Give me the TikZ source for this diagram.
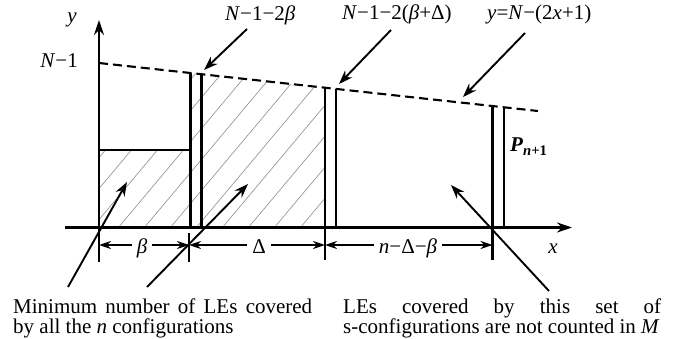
\documentclass[tikz,border=0pt]{standalone}
\usepackage{fontspec}
\setmainfont{Liberation Serif}
\usetikzlibrary{arrows.meta,calc}
\begin{document}
\begin{tikzpicture}[x=1pt,y=-1pt,
  thickline/.style={line width=2.1pt},
  hatchline/.style={line width=0.6pt,black!45},
  lbl/.style={inner sep=0pt,font=\fontsize{21}{21}\selectfont},
  dimlbl/.style={inner ysep=0pt,inner xsep=5pt,font=\fontsize{21}{21}\selectfont},
  annot/.style={line width=1.9pt,-{Stealth[length=14pt,width=10pt]}},
  dimarrow/.style={line width=1.8pt,-{Stealth[length=12pt,width=8pt]}},
  axisarrow/.style={line width=2.1pt,-{Stealth[length=15pt,width=10pt]}},
  ]
\useasboundingbox (0,0) rectangle (676,339);

% hatching
\begin{scope}
  \clip (99,150) rectangle (190.5,228);
  \foreach \k in {-12,...,6} {
    \draw[hatchline] ({248+26*\k},228) -- ++(142.6,-170);
  }
\end{scope}
\begin{scope}
  \clip (190.5,228) -- (325,228) -- (325,87.7) -- (190.5,73) -- cycle;
  \foreach \k in {-12,...,6} {
    \draw[hatchline] ({248+26*\k},228) -- ++(142.6,-170);
  }
\end{scope}

% dashed line y = N-(2x+1)
\coordinate (dl0) at (99,63);
\coordinate (dl1) at (538,111);
\draw[thickline,dash pattern=on 9pt off 5pt] (dl0) -- (dl1);

% vertical bars
\foreach \x in {190.5,201.5,325,336,492.5,504} {
  \draw[thickline] (\x,228) -- (\x,{63+(\x-99)*0.10934});
}
\draw[thickline] (99,150) -- (190.5,150);

% axes
\coordinate (ybot) at (99,262);
\coordinate (ytop) at (99,20);
\coordinate (xleft) at (65,227.5);
\coordinate (xright) at (572,227.5);
\draw[axisarrow] (ybot) -- (ytop);
\draw[axisarrow] (xleft) -- (xright);

% dimension ticks
\draw[thickline] (189,233) -- (189,262);
\draw[thickline] (325,228) -- (325,260);
\draw[thickline] (492.5,228) -- (492.5,260);

% dimension labels and arrows
\coordinate (d0) at (99,245);
\coordinate (d1) at (189,245);
\coordinate (d2) at (325,245);
\coordinate (d3) at (492.5,245);
\node[dimlbl,anchor=base] (lbeta) at (142,253) {\textit{β}};
\node[dimlbl,anchor=base] (ldelta) at (259,253) {Δ};
\node[dimlbl,anchor=base] (lrest) at (408,253) {\textit{n}−Δ−\textit{β}};
\draw[dimarrow] (lbeta.west |- d0) -- (d0);
\draw[dimarrow] (lbeta.east |- d0) -- (d1);
\draw[dimarrow] (ldelta.west |- d0) -- (d1);
\draw[dimarrow] (ldelta.east |- d0) -- (d2);
\draw[dimarrow] (lrest.west |- d0) -- (d2);
\draw[dimarrow] (lrest.east |- d0) -- (d3);

% labels
\node[lbl,anchor=base] (ylab) at (72,23) {\textit{y}};
\node[lbl,anchor=base east] (nm1) at (78,68) {\textit{N}−1};
\node[lbl,anchor=base] (xlab) at (553,253) {\textit{x}};
\node[lbl,anchor=base west] (l1) at (225,21) {\textit{N}−1−2\textit{β}};
\node[lbl,anchor=base west] (l2) at (342,20) {\textit{N}−1−2(\textit{β}+Δ)};
\node[lbl,anchor=base west] (l3) at (487,20) {\textit{y}=\textit{N}−(2\textit{x}+1)};
\node[lbl,anchor=base west] (pn) at (510,152) {\textbf{\textit{P}\textsubscript{\textit{n}+1}}};

% bottom texts
\node[lbl,anchor=base west] (t1) at (13,313) {\makebox[299pt][s]{Minimum number of LEs covered}};
\node[lbl,anchor=base west] (t2) at (13,333) {by all the \textit{n} configurations};
\node[lbl,anchor=base west] (t3) at (343,313) {\makebox[318pt][s]{LEs covered by this set of}};
\node[lbl,anchor=base west] (t4) at (343,333) {s-configurations are not counted in \textit{M}};

% annotation arrows
\coordinate (s1) at (247,29);  \coordinate (e1) at (204,70);
\coordinate (s2) at (391,30);  \coordinate (e2) at (339,84);
\coordinate (s3) at (525,33);  \coordinate (e3) at (463,97);
\coordinate (s4) at (68,287);  \coordinate (e4) at (127,182);
\coordinate (s5) at (147,287); \coordinate (e5) at (248,184);
\coordinate (s6) at (549,291); \coordinate (e6) at (451,185);
\foreach \i in {1,...,6} {
  \draw[annot] (s\i) -- (e\i);
}
\end{tikzpicture}
\end{document}
